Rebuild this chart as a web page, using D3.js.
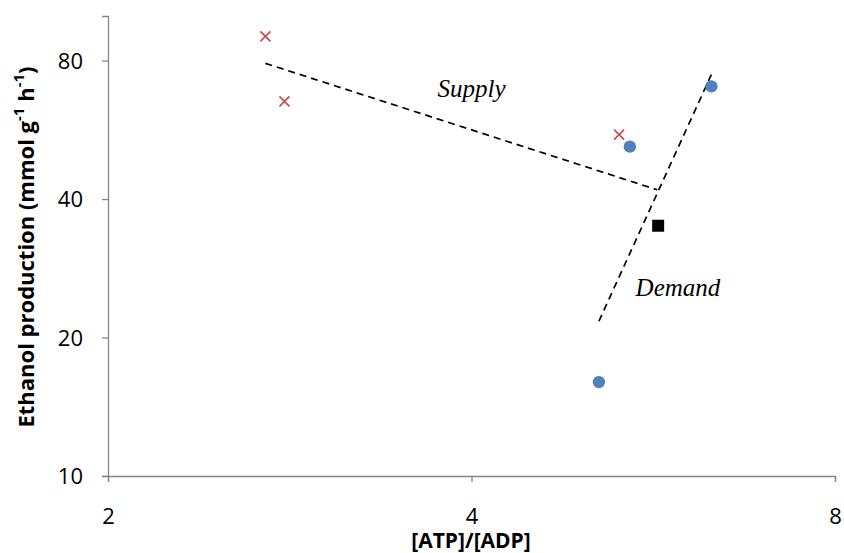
<!DOCTYPE html>
<html><head><meta charset="utf-8">
<script src="https://cdn.jsdelivr.net/npm/d3@7"></script>
<style>body{margin:0;background:#fff}</style>
</head><body>
<svg id="c" width="844" height="553"></svg>
<script>
const xTicks = [2, 4, 8];
const yTicks = [10, 20, 40, 80];
const crosses = [{x:2.70,y:90.3},{x:2.80,y:65.2},{x:5.30,y:55.2}];
const circles = [{x:5.41,y:52.0},{x:6.32,y:70.3},{x:5.10,y:16.0}];
const squares = [{x:5.71,y:35.0}];
const supplyLine = [{x:2.70,y:78.9},{x:5.70,y:41.9}];
const demandLine = [{x:5.10,y:21.7},{x:6.32,y:74.6}];
const labels = [{t:"Supply",x:4.0,y:66.8},{t:"Demand",x:5.93,y:24.6}];

const svg = d3.select("#c");
const x = d3.scaleLog().base(2).domain([2,8]).range([108,835]);
const y = d3.scaleLog().base(2).domain([10,100]).range([476,16]);
const axisColor = "#868686";
const sans = "'Open Sans', 'Liberation Sans', sans-serif";

const xa = svg.append("g").attr("transform","translate(0,476)")
  .call(d3.axisBottom(x).tickValues(xTicks).tickFormat(d3.format("d")).tickSizeOuter(0).tickSize(6));
xa.select(".domain").attr("stroke",axisColor).attr("stroke-width",1.3);
xa.selectAll(".tick line").attr("stroke",axisColor).attr("stroke-width",1.3);
xa.selectAll(".tick text").style("font-family",sans).style("font-size","22px").attr("fill","#000").attr("y",40).attr("dy","0.36em");

const ya = svg.append("g").attr("transform","translate(108,0)")
  .call(d3.axisLeft(y).tickValues(yTicks).tickFormat(d3.format("d")).tickSizeOuter(0).tickSize(6));
ya.select(".domain").attr("stroke",axisColor).attr("stroke-width",1.3);
ya.selectAll(".tick line").attr("stroke",axisColor).attr("stroke-width",1.3);
ya.selectAll(".tick text").style("font-family",sans).style("font-size","22px").attr("fill","#000").attr("x",-25).attr("dy","0.36em");

// axis titles
svg.append("text").attr("x",471).attr("y",548).attr("text-anchor","middle")
  .style("font-family",sans).style("font-weight","bold").style("font-size","21px")
  .text("[ATP]/[ADP]");
const yt = svg.append("text").attr("transform","translate(34,247) rotate(-90)").attr("text-anchor","middle")
  .style("font-family",sans).style("font-weight","bold").style("font-size","22px");
yt.append("tspan").text("Ethanol production (mmol g");
yt.append("tspan").attr("baseline-shift","super").style("font-size","15px").text("-1");
yt.append("tspan").text(" h");
yt.append("tspan").attr("baseline-shift","super").style("font-size","15px").text("-1");
yt.append("tspan").text(")");

// dashed lines
const line = d3.line().x(d=>x(d.x)).y(d=>y(d.y));
[supplyLine, demandLine].forEach(l=>{
  svg.append("path").datum(l).attr("d",line).attr("fill","none").attr("stroke","#000")
    .attr("stroke-width",1.7).attr("stroke-dasharray","7,5");
});

// markers
const s = 5;
crosses.forEach(d=>{
  const cx=x(d.x), cy=y(d.y);
  svg.append("path").attr("d",`M${cx-s},${cy-s}L${cx+s},${cy+s}M${cx-s},${cy+s}L${cx+s},${cy-s}`)
    .attr("stroke","#C0504D").attr("stroke-width",1.7).attr("fill","none");
});
svg.selectAll("circle.m").data(circles).enter().append("circle")
  .attr("cx",d=>x(d.x)).attr("cy",d=>y(d.y)).attr("r",6.2).attr("fill","#4F81BD");
svg.selectAll("rect.m").data(squares).enter().append("rect")
  .attr("x",d=>x(d.x)-6).attr("y",d=>y(d.y)-6).attr("width",12).attr("height",12).attr("fill","#000");

// labels
svg.selectAll("text.lab").data(labels).enter().append("text")
  .attr("x",d=>x(d.x)).attr("y",d=>y(d.y)).attr("text-anchor","middle")
  .style("font-family","'Liberation Serif', 'DejaVu Serif', serif").style("font-style","italic").style("font-size","25px")
  .text(d=>d.t);
</script>
</body></html>
